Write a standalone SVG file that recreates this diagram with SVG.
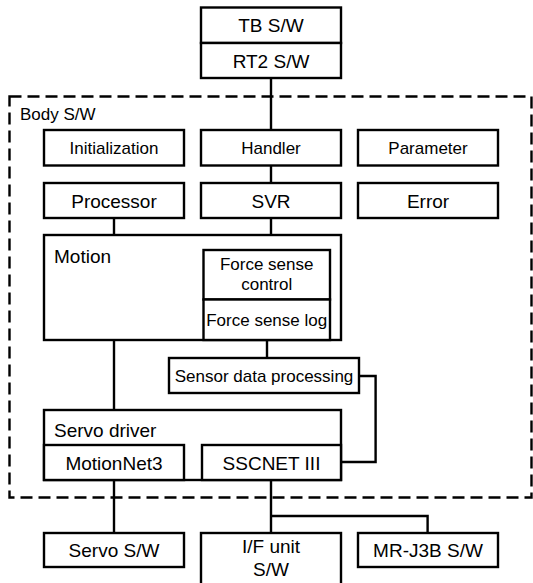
<svg xmlns="http://www.w3.org/2000/svg" width="533" height="583" viewBox="0 0 533 583">
  <style>
    .box { fill: #ffffff; stroke: #000000; stroke-width: 2.4; }
    .wire { fill: none; stroke: #000000; stroke-width: 2.4; }
    .frame { fill: none; stroke: #000000; stroke-width: 2.4; stroke-dasharray: 12 6; }
    text { font-family: "Liberation Sans", Arial, sans-serif; fill: #000000; }
    .c { text-anchor: middle; }
    .lg { font-size: 19px; }
    .sm { font-size: 17px; }
  </style>

  <rect width="533" height="583" fill="#ffffff"/>

  <!-- Body S/W boundary -->
  <g id="body-sw">
    <rect class="frame" x="9.5" y="96.5" width="522" height="401"/>
    <text class="sm" x="20" y="120">Body S/W</text>
  </g>

  <!-- connectors -->
  <g id="connectors">
    <line class="wire" x1="271" y1="78" x2="271" y2="130"/>
    <line class="wire" x1="271" y1="165.5" x2="271" y2="183"/>
    <line class="wire" x1="271" y1="218" x2="271" y2="235"/>
    <line class="wire" x1="114" y1="218" x2="114" y2="235"/>
    <line class="wire" x1="114" y1="340" x2="114" y2="410"/>
    <line class="wire" x1="267" y1="340" x2="267" y2="358"/>
    <polyline class="wire" points="359,376 375.6,376 375.6,462 341,462"/>
    <line class="wire" x1="114" y1="480" x2="114" y2="533"/>
    <line class="wire" x1="271" y1="480" x2="271" y2="533"/>
    <polyline class="wire" points="271,516 427.6,516 427.6,533"/>
  </g>

  <g id="tb-sw">
    <rect class="box" x="201" y="7.5" width="140" height="35.5"/>
    <text class="lg c" x="271" y="32">TB S/W</text>
  </g>
  <g id="rt2-sw">
    <rect class="box" x="201" y="43" width="140" height="35"/>
    <text class="lg c" x="271" y="67.5">RT2 S/W</text>
  </g>

  <g id="initialization">
    <rect class="box" x="44" y="130" width="140" height="35.5"/>
    <text class="sm c" x="114" y="154">Initialization</text>
  </g>
  <g id="handler">
    <rect class="box" x="201" y="130" width="140" height="35.5"/>
    <text class="sm c" x="271" y="154">Handler</text>
  </g>
  <g id="parameter">
    <rect class="box" x="358" y="130" width="140" height="35.5"/>
    <text class="sm c" x="428" y="154">Parameter</text>
  </g>

  <g id="processor">
    <rect class="box" x="44" y="183" width="140" height="35"/>
    <text class="lg c" x="114" y="207.5">Processor</text>
  </g>
  <g id="svr">
    <rect class="box" x="201" y="183" width="140" height="35"/>
    <text class="lg c" x="271" y="207.5">SVR</text>
  </g>
  <g id="error">
    <rect class="box" x="358" y="183" width="140" height="35"/>
    <text class="lg c" x="428" y="207.5">Error</text>
  </g>

  <g id="motion">
    <rect class="box" x="44" y="235" width="297" height="105"/>
    <text class="lg" x="54" y="263">Motion</text>
  </g>
  <g id="force-sense-control">
    <rect class="box" x="203.5" y="250" width="126.5" height="49.5"/>
    <text class="sm c" x="266.7" y="269.5">Force sense</text>
    <text class="sm c" x="266.7" y="290">control</text>
  </g>
  <g id="force-sense-log">
    <rect class="box" x="203.5" y="299.5" width="126.5" height="40.5"/>
    <text class="sm c" x="266.7" y="326">Force sense log</text>
  </g>

  <g id="sensor-data-processing">
    <rect class="box" x="169" y="358" width="190" height="35"/>
    <text class="sm c" x="264" y="381.5">Sensor data processing</text>
  </g>

  <g id="servo-driver">
    <rect class="box" x="44" y="410" width="297" height="70"/>
    <text class="lg" x="54" y="437">Servo driver</text>
  </g>
  <g id="motionnet3">
    <rect class="box" x="44" y="445" width="140" height="35"/>
    <text class="lg c" x="114" y="469.5">MotionNet3</text>
  </g>
  <g id="sscnet-iii">
    <rect class="box" x="202" y="445" width="139" height="35"/>
    <text class="lg c" x="271.5" y="469.5">SSCNET III</text>
  </g>

  <g id="servo-sw">
    <rect class="box" x="44" y="533" width="140" height="34"/>
    <text class="lg c" x="114" y="557">Servo S/W</text>
  </g>
  <g id="if-unit-sw">
    <rect class="box" x="201" y="533" width="140" height="60"/>
    <text class="lg c" x="271" y="553">I/F unit</text>
    <text class="lg c" x="271" y="576">S/W</text>
  </g>
  <g id="mr-j3b-sw">
    <rect class="box" x="358" y="533" width="140" height="34"/>
    <text class="lg c" x="428" y="557">MR-J3B S/W</text>
  </g>
</svg>
